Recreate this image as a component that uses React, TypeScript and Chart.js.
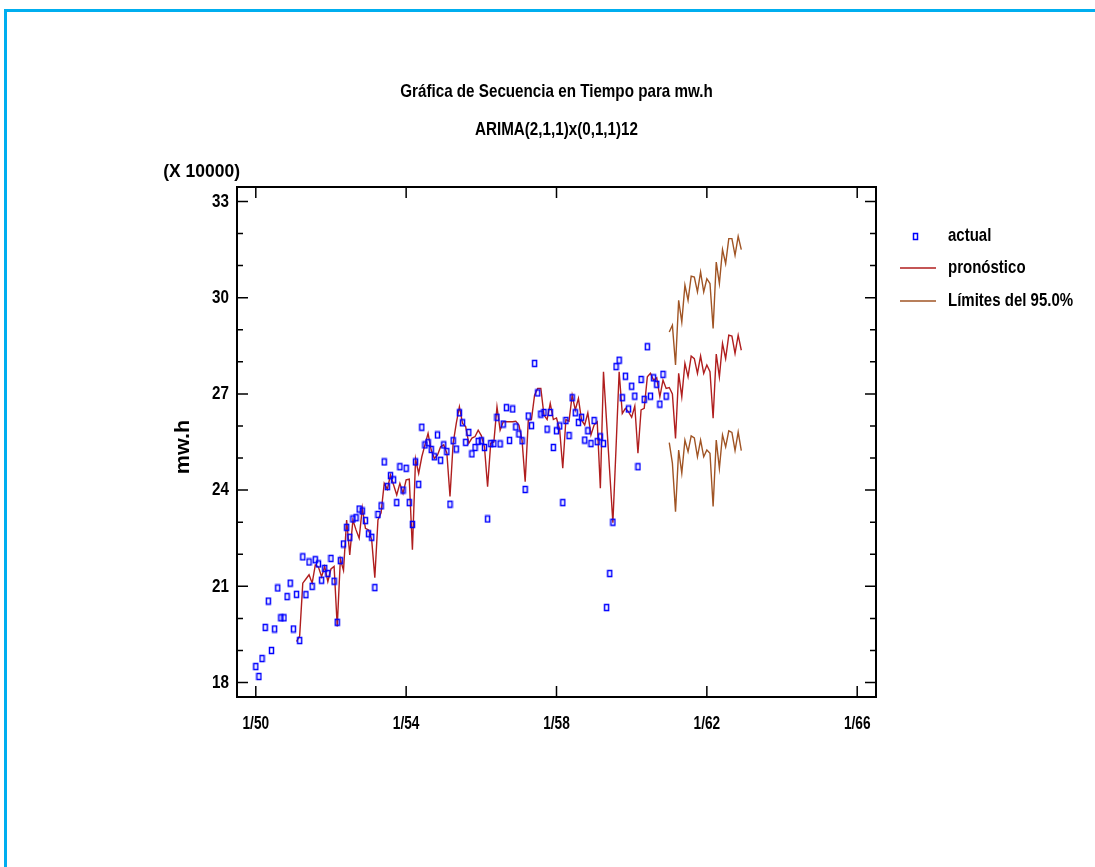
import React, { useEffect, useRef } from 'react';
import { Chart, registerables } from 'chart.js';

Chart.register(...registerables);

const FONT = "'Liberation Sans', Arial, sans-serif";

// x values are months counted from January 1950
const xTickMonths = [0, 48, 96, 144, 192];
const xTickLabels = ['1/50', '1/54', '1/58', '1/62', '1/66'];
const yTickValues = [18, 21, 24, 27, 30, 33];

// monthly observed values (x 10000), Jan 1950 .. Dec 1960
const actual = [
  18.50, 18.19, 18.75, 19.72, 20.54, 19.00, 19.67, 20.95, 20.02, 20.02, 20.68, 21.10,
  19.67, 20.75, 19.31, 21.92, 20.74, 21.76, 21.00, 21.83, 21.70, 21.19, 21.56, 21.40,
  21.87, 21.16, 19.88, 21.80, 22.32, 22.84, 22.53, 23.10, 23.14, 23.41, 23.35, 23.05,
  22.64, 22.53, 20.96, 23.24, 23.51, 24.88, 24.11, 24.45, 24.32, 23.61, 24.73, 24.00,
  24.68, 23.61, 22.93, 24.88, 24.18, 25.96, 25.41, 25.48, 25.27, 25.04, 25.72, 24.93,
  25.41, 25.20, 23.56, 25.54, 25.28, 26.41, 26.10, 25.49, 25.80, 25.13, 25.33, 25.52,
  25.54, 25.33, 23.10, 25.45, 25.45, 26.27, 25.44, 26.06, 26.57, 25.55, 26.53, 25.97,
  25.75, 25.54, 24.02, 26.31, 26.01, 27.95, 27.03, 26.37, 26.42, 25.90, 26.42, 25.33,
  25.85, 26.00, 23.61, 26.17, 25.70, 26.88, 26.41, 26.11, 26.27, 25.56, 25.85, 25.45,
  26.17, 25.51, 25.66, 25.45, 20.34, 21.40, 23.00, 27.85, 28.05, 26.88, 27.55, 26.53,
  27.24, 26.93, 24.73, 27.45, 26.83, 28.47, 26.93, 27.50, 27.30, 26.68, 27.61, 26.93,
];

// one-step fitted values, Feb 1951 .. Dec 1960
const fittedStartMonth = 13;
const fitted = [
  19.28, 19.45, 21.10, 21.23, 21.36, 21.10, 21.67, 21.60, 21.30, 21.62, 21.15,
  21.54, 21.62, 19.75, 21.85, 21.50, 23.07, 21.98, 23.07, 22.76, 22.50, 23.44, 22.81,
  22.76, 22.45, 21.27, 23.07, 23.29, 24.21, 24.03, 24.47, 24.16, 23.85, 24.21, 23.90,
  24.32, 24.34, 22.14, 24.97, 24.52, 25.04, 25.41, 25.77, 25.25, 24.99, 25.09, 25.35,
  25.41, 25.15, 23.80, 25.46, 26.08, 26.60, 26.08, 25.98, 25.46, 25.62, 25.67, 25.87,
  25.70, 25.35, 24.11, 25.46, 25.50, 26.60, 25.87, 26.13, 26.13, 26.13, 26.13, 26.15,
  26.03, 25.56, 24.26, 26.18, 26.20, 26.96, 27.17, 27.17, 26.34, 26.20, 26.70, 26.20,
  26.25, 25.89, 24.68, 26.20, 26.15, 26.96, 26.50, 26.86, 26.18, 26.03, 26.41, 25.72,
  26.03, 26.13, 24.06, 27.69, 26.12, 24.55, 22.98, 25.30, 27.69, 26.39, 26.55, 26.44,
  26.27, 26.62, 25.15, 26.50, 26.55, 27.53, 27.64, 27.43, 27.50, 26.91, 27.43, 27.17,
];

// forecasts and 95% limits, Jan 1961 .. Dec 1962
const forecastStartMonth = 132;
const forecast = [
  27.20, 27.00, 25.61, 27.64, 26.91, 27.95, 27.53, 28.18, 28.10, 27.64, 28.18, 27.64,
  27.90, 27.69, 26.24, 28.24, 27.53, 28.57, 28.10, 28.83, 28.80, 28.26, 28.83, 28.36,
];
const upperLimit = [
  28.93, 29.14, 27.90, 29.92, 29.24, 30.39, 29.92, 30.67, 30.64, 30.18, 30.80, 30.18,
  30.59, 30.44, 29.04, 31.11, 30.44, 31.50, 31.06, 31.84, 31.84, 31.32, 31.91, 31.50,
];
const lowerLimit = [
  25.48, 24.84, 23.33, 25.25, 24.53, 25.56, 25.20, 25.69, 25.63, 25.04, 25.56, 25.04,
  25.25, 25.15, 23.49, 25.56, 24.68, 25.72, 25.35, 25.85, 25.80, 25.23, 25.81, 25.23,
];

const titleText = 'Gráfica de Secuencia en Tiempo para mw.h';
const subtitleText = 'ARIMA(2,1,1)x(0,1,1)12';
const yAxisTitle = 'mw.h';
const yMultiplierText = '(X 10000)';

const BLUE = '#0000ff';
const RED = '#b01e1e';
const BROWN = '#a05424';

function makePointCanvas(): HTMLCanvasElement {
  const c = document.createElement('canvas');
  c.width = 7;
  c.height = 9;
  const g = c.getContext('2d')!;
  g.strokeStyle = BLUE;
  g.lineWidth = 1.5;
  g.strokeRect(1.5, 1.5, 4, 6);
  return c;
}

const toPoints = (start: number, vals: number[]) => vals.map((v, i) => ({ x: start + i, y: v }));

// draws horizontally condensed bold text (the original uses a narrow typeface)
function condensedText(
  ctx: CanvasRenderingContext2D,
  text: string,
  x: number,
  y: number,
  align: CanvasTextAlign,
  size: number,
  sx: number,
  rotate = 0,
) {
  ctx.save();
  ctx.translate(x, y);
  if (rotate) ctx.rotate(rotate);
  ctx.scale(sx, 1);
  ctx.font = `bold ${size}px ${FONT}`;
  ctx.fillStyle = '#000';
  ctx.textAlign = align;
  ctx.textBaseline = 'middle';
  ctx.fillText(text, 0, 0);
  ctx.restore();
}

export default function App() {
  const ref = useRef<HTMLCanvasElement>(null);

  useEffect(() => {
    if (!ref.current) return;
    const pointImg = makePointCanvas();

    const decorations = {
      id: 'decorations',
      afterDraw(chart: any) {
        const { ctx, chartArea: a, scales } = chart;
        const xs = scales.x;
        const ys = scales.y;
        ctx.save();
        // frame
        ctx.strokeStyle = '#000';
        ctx.lineWidth = 2;
        ctx.strokeRect(a.left, a.top, a.right - a.left, a.bottom - a.top);
        // inward ticks
        ctx.lineWidth = 1.5;
        ctx.beginPath();
        for (let v = Math.ceil(ys.min); v <= Math.floor(ys.max); v++) {
          const y = ys.getPixelForValue(v);
          const len = yTickValues.includes(v) ? 11 : 6;
          ctx.moveTo(a.left, y);
          ctx.lineTo(a.left + len, y);
          ctx.moveTo(a.right, y);
          ctx.lineTo(a.right - len, y);
        }
        for (const m of xTickMonths) {
          const x = xs.getPixelForValue(m);
          ctx.moveTo(x, a.bottom);
          ctx.lineTo(x, a.bottom - 11);
          ctx.moveTo(x, a.top);
          ctx.lineTo(x, a.top + 11);
        }
        ctx.stroke();
        ctx.restore();

        const cx = (a.left + a.right) / 2;
        // titles
        condensedText(ctx, titleText, cx, a.top - 95, 'center', 19, 0.8);
        condensedText(ctx, subtitleText, cx, a.top - 57, 'center', 19, 0.8);
        // axis multiplier
        condensedText(ctx, yMultiplierText, a.left + 3, a.top - 15, 'right', 19, 0.92);
        // y tick labels
        for (const v of yTickValues) {
          condensedText(ctx, String(v), a.left - 8, ys.getPixelForValue(v), 'right', 19, 0.8);
        }
        // x tick labels
        xTickMonths.forEach((m, i) => {
          condensedText(ctx, xTickLabels[i], xs.getPixelForValue(m), a.bottom + 27, 'center', 19, 0.72);
        });
        // y axis title
        condensedText(ctx, yAxisTitle, a.left - 54, (a.top + a.bottom) / 2 + 5, 'center', 20, 1.08, -Math.PI / 2);

        // legend
        const lx = a.right;
        const ds = chart.data.datasets;
        const rows = [
          { y: a.top + 49, kind: 'point', label: ds[0].label, color: BLUE },
          { y: a.top + 81, kind: 'line', label: ds[1].label, color: ds[1].borderColor },
          { y: a.top + 114, kind: 'line', label: ds[2].label, color: ds[2].borderColor },
        ];
        for (const r of rows) {
          ctx.save();
          if (r.kind === 'point') {
            ctx.drawImage(pointImg, lx + 36, r.y - 4);
          } else {
            ctx.strokeStyle = r.color;
            ctx.lineWidth = 1.5;
            ctx.beginPath();
            ctx.moveTo(lx + 24, r.y);
            ctx.lineTo(lx + 60, r.y);
            ctx.stroke();
          }
          ctx.restore();
          condensedText(ctx, r.label, lx + 72, r.y, 'left', 19, 0.79);
        }
      },
    };

    const chart = new Chart(ref.current, {
      type: 'line',
      data: {
        datasets: [
          {
            label: 'actual',
            data: toPoints(0, actual),
            showLine: false,
            pointStyle: pointImg as any,
            pointRadius: 3,
            borderColor: BLUE,
            backgroundColor: BLUE,
          },
          {
            label: 'pronóstico',
            data: [...toPoints(fittedStartMonth, fitted), ...toPoints(forecastStartMonth, forecast)],
            borderColor: RED,
            borderWidth: 1.4,
            pointRadius: 0,
            tension: 0,
          },
          {
            label: 'Límites del 95.0%',
            data: toPoints(forecastStartMonth, upperLimit),
            borderColor: BROWN,
            borderWidth: 1.4,
            pointRadius: 0,
            tension: 0,
          },
          {
            label: 'Límites del 95.0% (inferior)',
            data: toPoints(forecastStartMonth, lowerLimit),
            borderColor: BROWN,
            borderWidth: 1.4,
            pointRadius: 0,
            tension: 0,
          },
        ],
      },
      options: {
        animation: false,
        responsive: false,
        maintainAspectRatio: false,
        events: [],
        layout: { padding: { left: 165, right: 219, top: 187, bottom: 130 } },
        plugins: {
          legend: { display: false },
          tooltip: { enabled: false },
          title: { display: false },
        },
        scales: {
          x: {
            type: 'linear',
            min: -6,
            max: 198,
            afterBuildTicks: (s: any) => {
              s.ticks = xTickMonths.map((v) => ({ value: v }));
            },
            afterFit: (s: any) => {
              s.height = 40;
            },
            ticks: { display: false },
            grid: { display: false, drawTicks: false },
            border: { display: false },
          },
          y: {
            type: 'linear',
            min: 17.55,
            max: 33.45,
            afterBuildTicks: (s: any) => {
              s.ticks = yTickValues.map((v) => ({ value: v }));
            },
            afterFit: (s: any) => {
              s.width = 72;
            },
            ticks: { display: false },
            grid: { display: false, drawTicks: false },
            border: { display: false },
          },
        },
      },
      plugins: [decorations],
    });
    return () => chart.destroy();
  }, []);

  return (
    <div>
      <div
        style={{
          position: 'absolute',
          left: 4,
          top: 9,
          width: 1091,
          height: 858,
          boxSizing: 'border-box',
          borderTop: '3px solid #00aeef',
          borderLeft: '3px solid #00aeef',
        }}
      />
      <div style={{ position: 'absolute', left: 0, top: 0, width: 1095, height: 867 }}>
        <canvas ref={ref} width={1095} height={867} style={{ display: 'block', width: 1095, height: 867 }} />
      </div>
    </div>
  );
}
